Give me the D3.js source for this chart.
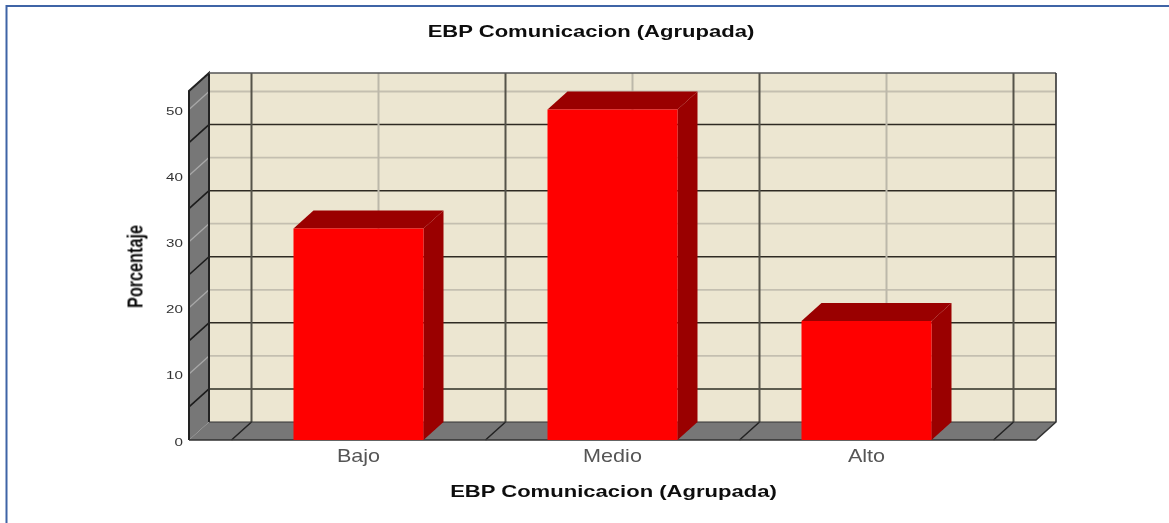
<!DOCTYPE html>
<html><head><meta charset="utf-8">
<script src="https://cdn.jsdelivr.net/npm/d3@7/dist/d3.min.js"></script>
<style>html,body{margin:0;padding:0;background:#fff}svg{display:block}text{font-family:"Liberation Sans",Arial,sans-serif}</style>
</head><body><div id="c"></div>
<script>
const categories = ["Bajo","Medio","Alto"];
const values = [32,50,18];
const yTicks = [0,10,20,30,40,50];
const dark = [5,15,25,35,45];
const chartTitle = "EBP Comunicacion (Agrupada)";
const yTitle = "Porcentaje";

const W=1169,H=523;
const svg=d3.select("#c").append("svg").attr("width",W).attr("height",H);
const defs=svg.append("defs");
defs.append("filter").attr("id","soft").attr("x","-5%").attr("y","-5%").attr("width","110%").attr("height","110%")
  .append("feGaussianBlur").attr("stdDeviation",0.7);
defs.append("filter").attr("id","softT").attr("x","-5%").attr("y","-5%").attr("width","110%").attr("height","110%")
  .append("feGaussianBlur").attr("stdDeviation",0.75);

const dx=20,dy=-18;
const x=d3.scaleBand().domain(categories).range([231.5,993.5]).paddingInner(0).paddingOuter(0);
const y=d3.scaleLinear().domain([0,50]).range([440,109.5]);
const frontL=189,frontR=1036,yTop=y(0)+dy-349;
const barW=130;
const pts=a=>a.map(p=>p.join(",")).join(" ");

// frame
svg.append("path").attr("d",`M6.5,${H}V6H${W}`).attr("fill","none").attr("stroke","#3f64a6").attr("stroke-width",2);

const g=svg.append("g").attr("filter","url(#soft)");
const floorY=y(0);
// back wall
g.append("rect").attr("x",frontL+dx).attr("y",yTop).attr("width",frontR-frontL).attr("height",floorY+dy-yTop).attr("fill","#ece6d1");
// side wall + floor
g.append("polygon").attr("points",pts([[frontL,floorY],[frontL+dx,floorY+dy],[frontL+dx,yTop],[frontL,yTop-dy]])).attr("fill","#777");
g.append("polygon").attr("points",pts([[frontL,floorY],[frontR,floorY],[frontR+dx,floorY+dy],[frontL+dx,floorY+dy]])).attr("fill","#777");
// back wall gridlines
const grid=g.append("g");
grid.selectAll("line.l").data(yTicks.slice(1)).join("line").attr("x1",frontL+dx).attr("x2",frontR+dx)
  .attr("y1",d=>y(d)+dy).attr("y2",d=>y(d)+dy).attr("stroke","#c4bfb0").attr("stroke-width",1.8);
grid.selectAll("line.d").data(dark).join("line").attr("x1",frontL+dx).attr("x2",frontR+dx)
  .attr("y1",d=>y(d)+dy).attr("y2",d=>y(d)+dy).attr("stroke","#2e2c24").attr("stroke-width",1.5);
grid.selectAll("line.v1").data(categories).join("line")
  .attr("x1",d=>x(d)+x.bandwidth()/2+dx).attr("x2",d=>x(d)+x.bandwidth()/2+dx)
  .attr("y1",yTop).attr("y2",floorY+dy).attr("stroke","#bcb8aa").attr("stroke-width",2);
const edges=[...categories.map(c=>x(c)),x.range()[1]];
grid.selectAll("line.v2").data(edges).join("line")
  .attr("x1",d=>d+dx).attr("x2",d=>d+dx).attr("y1",yTop).attr("y2",floorY+dy).attr("stroke","#55534a").attr("stroke-width",2);
// side wall lines
grid.selectAll("line.sl").data(yTicks.slice(1)).join("line").attr("x1",frontL).attr("x2",frontL+dx)
  .attr("y1",d=>y(d)).attr("y2",d=>y(d)+dy).attr("stroke","#a8a8a8").attr("stroke-width",1.3);
grid.selectAll("line.sd").data(dark).join("line").attr("x1",frontL).attr("x2",frontL+dx)
  .attr("y1",d=>y(d)).attr("y2",d=>y(d)+dy).attr("stroke","#1c1c1c").attr("stroke-width",1.6);
// floor lines
grid.selectAll("line.f").data(edges).join("line").attr("x1",d=>d).attr("x2",d=>d+dx)
  .attr("y1",floorY).attr("y2",floorY+dy).attr("stroke","#222").attr("stroke-width",1.5);
// outlines
g.append("path").attr("d",`M${frontL},${floorY}V${yTop-dy}L${frontL+dx},${yTop}V${floorY+dy}`).attr("fill","none").attr("stroke","#222").attr("stroke-width",2);
g.append("path").attr("d",`M${frontL+dx},${yTop}H${frontR+dx}`).attr("fill","none").attr("stroke","#555").attr("stroke-width",1.6);
g.append("path").attr("d",`M${frontR+dx},${yTop}V${floorY+dy}L${frontR},${floorY}H${frontL}`).attr("fill","none").attr("stroke","#333").attr("stroke-width",1.6);
g.append("line").attr("x1",frontL+dx).attr("x2",frontR+dx).attr("y1",floorY+dy).attr("y2",floorY+dy).attr("stroke","#333").attr("stroke-width",1);

// bars
const bars=g.selectAll("g.bar").data(categories.map((c,i)=>({c,v:values[i]}))).join("g");
const bl=d=>x(d.c)+x.bandwidth()/2-barW/2;
bars.append("polygon").attr("fill","#9a0000").attr("points",d=>pts([[bl(d),y(d.v)],[bl(d)+barW,y(d.v)],[bl(d)+barW+dx,y(d.v)+dy],[bl(d)+dx,y(d.v)+dy]]));
bars.append("polygon").attr("fill","#9a0000").attr("points",d=>pts([[bl(d)+barW,y(d.v)],[bl(d)+barW+dx,y(d.v)+dy],[bl(d)+barW+dx,floorY+dy],[bl(d)+barW,floorY]]));
bars.append("rect").attr("fill","#ff0000").attr("x",bl).attr("y",d=>y(d.v)).attr("width",barW).attr("height",d=>floorY-y(d.v));

// text
const t=svg.append("g").attr("filter","url(#softT)");
t.append("text").attr("transform","translate(591,36.5) scale(1.275,1)").attr("text-anchor","middle").attr("font-size",17.3).attr("font-weight","bold").attr("fill","#111").text(chartTitle);
t.append("text").attr("transform","translate(613.5,496.5) scale(1.275,1)").attr("text-anchor","middle").attr("font-size",17.3).attr("font-weight","bold").attr("fill","#111").text(chartTitle);
t.selectAll("text.c").data(categories).join("text").attr("class","c")
  .attr("transform",d=>`translate(${x(d)+x.bandwidth()/2},462) scale(1.2,1)`)
  .attr("text-anchor","middle").attr("font-size",18).attr("fill","#555").text(d=>d);
t.selectAll("text.yt").data(yTicks).join("text").attr("class","yt")
  .attr("transform",d=>`translate(183,${y(d)+5.5}) scale(1.38,1)`).attr("text-anchor","end").attr("font-size",11).attr("fill","#333").text(d=>d);
t.append("text").attr("transform","translate(142,266.5) rotate(-90) scale(0.9,1.25)").attr("text-anchor","middle").attr("font-size",18).attr("font-weight","bold").attr("fill","#111").text(yTitle);
</script></body></html>
